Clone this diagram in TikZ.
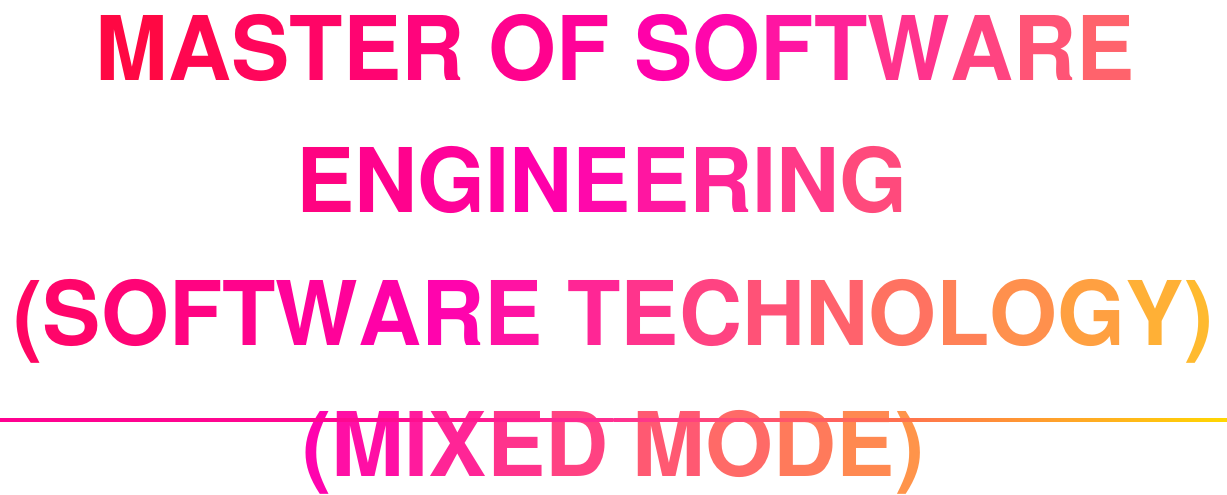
\documentclass[tikz,border=0pt]{standalone}
\usepackage{fontspec}
\newfontfamily\gtfont{TeX Gyre Heros}[FakeStretch=0.98]
\ExplSyntaxOn
\dim_new:N \l_gt_pos_dim
\dim_new:N \l_gt_tot_dim
\box_new:N \l_gt_box
\fp_new:N \l_gt_s_fp
\fp_new:N \l_gt_f_fp
\fp_new:N \l_gt_g_fp
\fp_new:N \l_gt_b_fp
\cs_new_protected:Npn \gt_char:nnn #1#2#3
 {
   \hbox_set:Nn \l_gt_box {#3}
   \fp_set:Nn \l_gt_s_fp
     { #1 + 2 * \dim_to_fp:n { \l_gt_pos_dim + 0.5\box_wd:N \l_gt_box - 0.5\l_gt_tot_dim } + #2 - 32 }
   \fp_compare:nNnTF { \l_gt_s_fp } < { 750 }
     {
       \fp_set:Nn \l_gt_f_fp { max(\l_gt_s_fp / 750, 0) }
       \fp_set:Nn \l_gt_g_fp { 10 - 10 * \l_gt_f_fp }
       \fp_set:Nn \l_gt_b_fp { 32 + 144 * \l_gt_f_fp }
     }
     {
       \fp_set:Nn \l_gt_f_fp { min((\l_gt_s_fp - 750) / 850, 1) }
       \fp_set:Nn \l_gt_g_fp { 208 * \l_gt_f_fp }
       \fp_set:Nn \l_gt_b_fp { 176 - 144 * \l_gt_f_fp }
     }
   \use:x { \exp_not:N \definecolor {gtc} {RGB} { 255, \fp_eval:n { round(\l_gt_g_fp) }, \fp_eval:n { round(\l_gt_b_fp) } } }
   \group_begin: \color{gtc} \box_use:N \l_gt_box \group_end:
   \dim_add:Nn \l_gt_pos_dim { \box_wd:N \l_gt_box }
 }
\NewDocumentCommand \gradline { m m m }
 {
   \dim_zero:N \l_gt_tot_dim
   \tl_map_inline:nn {#3} { \hbox_set:Nn \l_gt_box {##1} \dim_add:Nn \l_gt_tot_dim { \box_wd:N \l_gt_box } }
   \dim_zero:N \l_gt_pos_dim
   \tl_map_inline:nn {#3} { \gt_char:nnn {#1} {#2} {##1} }
 }
\ExplSyntaxOff
\definecolor{rA}{HTML}{FF0090}
\definecolor{rB}{HTML}{FF0890}
\definecolor{rC}{HTML}{FF3090}
\definecolor{rD}{HTML}{FF7050}
\definecolor{rE}{HTML}{FFB020}
\definecolor{rF}{HTML}{FFD700}
\tikzset{
  titleline/.style={anchor=base, inner sep=0pt, outer sep=0pt,
    font=\gtfont\bfseries\fontsize{44.6}{50}\selectfont},
}
\begin{document}
\begin{tikzpicture}[x=0.5pt,y=-0.5pt]
\useasboundingbox (0,0) rectangle (1227,494);
\begin{scope}
\clip (0,0) rectangle (1227,494);
\fill[white] (0,0) rectangle (1227,494);
\node[titleline] (l1) at (615,80) {\gradline{615}{80}{MASTER~OF~SOFTWARE}};
\node[titleline] (l2) at (602,212) {\gradline{602}{212}{ENGINEERING}};
\node[titleline] (l3) at (613.5,345) {\gradline{613.5}{345}{(SOFTWARE~TECHNOLOGY)}};
\node[titleline] (l4) at (613.5,476) {\gradline{613.5}{476}{(MIXED~MODE)}};
\coordinate (r0) at (0,420);
\coordinate (r1) at (368,420);
\coordinate (r2) at (613.5,420);
\coordinate (r3) at (896,420);
\coordinate (r4) at (1104,420);
\coordinate (r5) at (1227,420);
\shade[left color=rA, right color=rB] ([yshift=0.75pt]r0) rectangle ([yshift=-0.75pt]r1);
\shade[left color=rB, right color=rC] ([yshift=0.75pt]r1) rectangle ([yshift=-0.75pt]r2);
\shade[left color=rC, right color=rD] ([yshift=0.75pt]r2) rectangle ([yshift=-0.75pt]r3);
\shade[left color=rD, right color=rE] ([yshift=0.75pt]r3) rectangle ([yshift=-0.75pt]r4);
\shade[left color=rE, right color=rF] ([yshift=0.75pt]r4) rectangle ([yshift=-0.75pt]r5);
\end{scope}
\end{tikzpicture}
\end{document}
